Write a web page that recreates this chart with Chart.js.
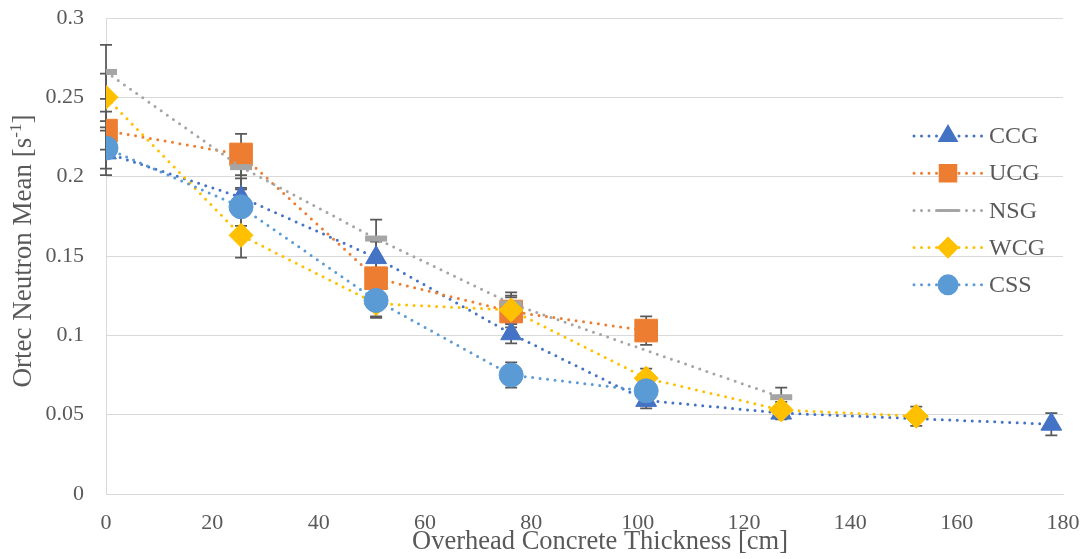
<!DOCTYPE html>
<html>
<head>
<meta charset="utf-8">
<script src="https://cdn.jsdelivr.net/npm/chart.js@4/dist/chart.umd.min.js"></script>
<style>
  html, body { margin: 0; padding: 0; background: #fff; }
  #wrap { width: 1090px; height: 559px; }
</style>
</head>
<body>
<div id="wrap"><canvas id="chart" width="1090" height="559"></canvas></div>
<script>
// concrete thickness (cm) where the counts were taken
var thickness = [0, 25.4, 50.8, 76.2, 101.6, 127, 152.4, 177.8];
var xTicks = [0, 20, 40, 60, 80, 100, 120, 140, 160, 180];
var yTicks = [0, 0.05, 0.1, 0.15, 0.2, 0.25, 0.3];

// means (null = not measured) and error bar half-widths
var ccg    = [0.215, 0.187, 0.149, 0.101, 0.059, 0.051, null, 0.044];
var ccgErr = [0.014, 0.012, 0.010, 0.006, 0.005, 0.004, null, 0.007];
var ucg    = [0.229, 0.214, 0.136, 0.115, 0.103, null, null, null];
var ucgErr = [0.012, 0.013, 0.012, 0.010, 0.009, null, null, null];
var nsg    = [0.266, 0.206, 0.161, 0.120, null, 0.061, null, null];
var nsgErr = [0.017, 0.014, 0.012, 0.007, null, 0.006, null, null];
var wcg    = [0.250, 0.163, 0.120, 0.116, 0.073, 0.053, 0.049, null];
var wcgErr = [0.015, 0.014, 0.009, 0.008, 0.006, 0.005, 0.006, null];
var css    = [0.218, 0.181, 0.122, 0.075, 0.065, null, null, null];
var cssErr = [0.013, 0.012, 0.010, 0.008, 0.006, null, null, null];

var textColor = '#595959';
var gridColor = '#D9D9D9';
var serif = '"Liberation Serif", "Times New Roman", serif';

function pontos(vals) {
  return thickness.map(function (x, i) { return { x: x, y: vals[i] }; });
}

function serie(label, vals, errs, cor, estilo, raio, borda, ordem, raioLegenda) {
  return {
    label: label,
    data: pontos(vals),
    errors: errs,
    borderColor: cor,
    backgroundColor: cor,
    borderWidth: 3,
    borderDash: [0, 7.5],
    borderCapStyle: 'round',
    pointStyle: estilo,
    pointRadius: raio,
    pointBorderWidth: borda,
    pointBackgroundColor: cor,
    pointBorderColor: cor,
    legendRadius: raioLegenda,
    spanGaps: true,
    fill: false,
    tension: 0,
    order: ordem
  };
}

var datasets = [
  serie('CCG', ccg, ccgErr, '#4472C4', 'triangle', 12, 1, 4, 9),
  serie('UCG', ucg, ucgErr, '#ED7D31', 'rect', 16, 1, 3, 11),
  serie('NSG', nsg, nsgErr, '#A5A5A5', 'line', 11, 6, 2, 10),
  serie('WCG', wcg, wcgErr, '#FFC000', 'rectRot', 12, 1, 1, 9),
  serie('CSS', css, cssErr, '#5B9BD5', 'circle', 12, 1, 0, 9)
];

// error bars drawn under the markers
var errorBars = {
  id: 'errorBars',
  beforeDatasetsDraw: function (chart) {
    var ctx = chart.ctx, xs = chart.scales.x, ys = chart.scales.y;
    ctx.save();
    ctx.strokeStyle = textColor;
    ctx.lineWidth = 1.75;
    chart.data.datasets.forEach(function (ds) {
      ds.data.forEach(function (p, i) {
        var e = ds.errors[i];
        if (p.y === null || e === null) return;
        var px = xs.getPixelForValue(p.x);
        var top = ys.getPixelForValue(p.y + e);
        var bot = ys.getPixelForValue(p.y - e);
        ctx.beginPath();
        ctx.moveTo(px, top); ctx.lineTo(px, bot);
        ctx.moveTo(px - 6, top); ctx.lineTo(px + 6, top);
        ctx.moveTo(px - 6, bot); ctx.lineTo(px + 6, bot);
        ctx.stroke();
      });
    });
    ctx.restore();
  }
};

// legend and axis titles
var extras = {
  id: 'extras',
  afterDraw: function (chart) {
    var ctx = chart.ctx;
    chart.data.datasets.forEach(function (ds, i) {
      var y = 136 + i * 37.2;
      ctx.save();
      ctx.strokeStyle = ds.borderColor;
      ctx.lineWidth = 3;
      ctx.lineCap = 'round';
      ctx.setLineDash([0, 7.5]);
      ctx.beginPath(); ctx.moveTo(914, y); ctx.lineTo(982, y); ctx.stroke();
      ctx.setLineDash([]);
      ctx.fillStyle = ds.pointBackgroundColor;
      ctx.strokeStyle = ds.pointBorderColor;
      Chart.helpers.drawPoint(ctx, {
        pointStyle: ds.pointStyle, radius: ds.legendRadius,
        borderWidth: ds.pointStyle === 'line' ? 5 : 1, rotation: 0
      }, 948, y);
      ctx.fillStyle = textColor;
      ctx.font = '24px ' + serif;
      ctx.textBaseline = 'middle';
      ctx.textAlign = 'left';
      ctx.fillText(ds.label, 989, y + 1);
      ctx.restore();
    });

    // x title
    ctx.save();
    ctx.fillStyle = textColor;
    ctx.font = '26.5px ' + serif;
    ctx.textAlign = 'center';
    ctx.textBaseline = 'alphabetic';
    ctx.fillText('Overhead Concrete Thickness [cm]', 600, 549);
    ctx.restore();

    // y title with superscript
    ctx.save();
    ctx.fillStyle = textColor;
    ctx.translate(31, 251);
    ctx.rotate(-Math.PI / 2);
    var big = '27px ' + serif, small = '17px ' + serif;
    var a = 'Ortec Neutron Mean [s', b = '-1', c = ']';
    ctx.font = big; var wa = ctx.measureText(a).width, wc = ctx.measureText(c).width;
    ctx.font = small; var wb = ctx.measureText(b).width;
    var x0 = -(wa + wb + wc) / 2;
    ctx.textBaseline = 'alphabetic';
    ctx.font = big; ctx.fillText(a, x0, 0);
    ctx.font = small; ctx.fillText(b, x0 + wa, -10);
    ctx.font = big; ctx.fillText(c, x0 + wa + wb, 0);
    ctx.restore();
  }
};

var chart = new Chart(document.getElementById('chart'), {
  type: 'line',
  data: { datasets: datasets },
  plugins: [errorBars, extras],
  options: {
    responsive: false,
    animation: false,
    events: [],
    layout: { padding: { top: 18, right: 27, left: 0, bottom: 0 } },
    plugins: { legend: { display: false }, tooltip: { enabled: false }, title: { display: false } },
    scales: {
      x: {
        type: 'linear', min: 0, max: 180,
        afterBuildTicks: function (s) { s.ticks = xTicks.map(function (v) { return { value: v }; }); },
        afterFit: function (s) { s.height = 65; s.paddingRight = 0; s.paddingLeft = 0; },
        ticks: { color: textColor, font: { family: serif, size: 22 }, padding: 16, maxRotation: 0, autoSkip: false },
        grid: { display: false, drawTicks: false },
        border: { display: true, color: gridColor, width: 1 }
      },
      y: {
        min: 0, max: 0.3,
        afterBuildTicks: function (s) { s.ticks = yTicks.map(function (v) { return { value: v }; }); },
        afterFit: function (s) { s.width = 106; s.paddingTop = 0; s.paddingBottom = 0; },
        ticks: { color: textColor, font: { family: serif, size: 22 }, padding: 22, autoSkip: false,
          callback: function (v) { return String(Math.round(v * 100) / 100); } },
        grid: { color: gridColor, lineWidth: 1, drawTicks: false },
        border: { display: true, color: gridColor, width: 1 }
      }
    }
  }
});
</script>
</body>
</html>
